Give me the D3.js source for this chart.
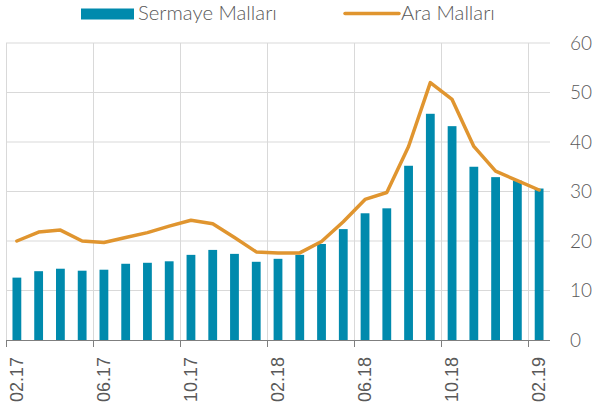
<!DOCTYPE html>
<html>
<head>
<meta charset="utf-8">
<script src="https://cdn.jsdelivr.net/npm/d3@7"></script>
<style>
  html, body { margin: 0; padding: 0; background: #fff; }
  svg { display: block; }
</style>
</head>
<body>
<svg id="chart" width="595" height="410"></svg>
<script>
const months = ["02.17","03.17","04.17","05.17","06.17","07.17","08.17","09.17","10.17","11.17","12.17","01.18",
                "02.18","03.18","04.18","05.18","06.18","07.18","08.18","09.18","10.18","11.18","12.18","01.19","02.19"];
const sermayeMallari = [12.6,13.9,14.4,14.0,14.2,15.4,15.6,15.9,17.2,18.2,17.4,15.8,
                        16.4,17.2,19.4,22.4,25.6,26.6,35.2,45.7,43.2,35.0,32.9,32.2,30.6];
const araMallari = [20.0,21.8,22.2,20.0,19.7,20.7,21.7,23.0,24.2,23.5,20.7,17.8,
                    17.6,17.6,19.9,23.9,28.4,29.8,39.1,52.0,48.6,39.1,34.1,32.2,30.3];
const tickLabels = ["02.17","06.17","10.17","02.18","06.18","10.18","02.19"];
const yTicks = [0,10,20,30,40,50,60];
const seriesNames = ["Sermaye Malları","Ara Malları"];

const barColor = "#008aad";
const lineColor = "#e0952f";
const gridColor = "#d9d9d9";
const textColor = "#595959";

const svg = d3.select("#chart");
const pLeft = 6, pRight = 550, pTop = 43, pBottom = 340;

const xb = d3.scaleBand().domain(months).range([pLeft, pRight]).padding(0);
const y = d3.scaleLinear().domain([0, 60]).range([pBottom, pTop]);

// horizontal gridlines
svg.append("g").selectAll("line").data(yTicks.filter(d => d > 0)).join("line")
  .attr("x1", pLeft).attr("x2", pRight)
  .attr("y1", d => y(d)).attr("y2", d => y(d))
  .attr("stroke", gridColor).attr("stroke-width", 1);

// vertical gridlines at tick months (band starts)
svg.append("g").selectAll("line").data(tickLabels).join("line")
  .attr("x1", d => Math.round(xb(d)) + 0.5).attr("x2", d => Math.round(xb(d)) + 0.5)
  .attr("y1", pTop).attr("y2", pBottom)
  .attr("stroke", gridColor).attr("stroke-width", 1);

// bars
svg.append("g").selectAll("rect").data(months).join("rect")
  .attr("x", (d) => xb(d) + xb.bandwidth() / 2 - 4.4)
  .attr("width", 8.8)
  .attr("y", (d, i) => y(sermayeMallari[i]))
  .attr("height", (d, i) => y(0) - y(sermayeMallari[i]))
  .attr("fill", barColor);

// line
const line = d3.line()
  .x((d, i) => xb(months[i]) + xb.bandwidth() / 2)
  .y(d => y(d));
svg.append("path").datum(araMallari)
  .attr("d", line)
  .attr("fill", "none")
  .attr("stroke", lineColor)
  .attr("stroke-width", 3.5)
  .attr("stroke-linejoin", "round")
  .attr("stroke-linecap", "round");

// x axis line + ticks
svg.append("line")
  .attr("x1", pLeft).attr("x2", pRight)
  .attr("y1", pBottom + 0.5).attr("y2", pBottom + 0.5)
  .attr("stroke", "#7f7f7f").attr("stroke-width", 1);
svg.append("g").selectAll("line").data(tickLabels).join("line")
  .attr("x1", d => Math.round(xb(d)) + 0.5).attr("x2", d => Math.round(xb(d)) + 0.5)
  .attr("y1", pBottom).attr("y2", pBottom + 7)
  .attr("stroke", "#7f7f7f").attr("stroke-width", 1);

// x labels
svg.append("g").selectAll("text").data(tickLabels).join("text")
  .attr("transform", d => `translate(${xb(d) + xb.bandwidth() / 2},357) rotate(-90)`)
  .attr("text-anchor", "end")
  .attr("dy", "0.35em")
  .attr("font-family", "'Liberation Sans', Arial, sans-serif")
  .attr("font-size", 18)
  .attr("fill", textColor)
  .text(d => d);

// y labels (right)
svg.append("g").selectAll("text").data(yTicks).join("text")
  .attr("x", 570)
  .attr("y", d => y(d))
  .attr("dy", "0.36em")
  .attr("font-family", "Lato, 'Open Sans', sans-serif")
  .attr("font-weight", 300)
  .attr("font-size", 19)
  .attr("fill", textColor)
  .text(d => d);

// legend
const lg = svg.append("g");
lg.append("rect").attr("x", 81).attr("y", 8.5).attr("width", 53).attr("height", 11).attr("fill", barColor);
lg.append("text").attr("x", 138).attr("y", 20)
  .attr("font-family", "Lato, 'Open Sans', sans-serif").attr("font-weight", 300)
  .attr("font-size", 20.3).attr("fill", textColor).text(seriesNames[0]);
lg.append("line").attr("x1", 345).attr("x2", 399).attr("y1", 13.5).attr("y2", 13.5)
  .attr("stroke", lineColor).attr("stroke-width", 3.5).attr("stroke-linecap", "round");
lg.append("text").attr("x", 401).attr("y", 20)
  .attr("font-family", "Lato, 'Open Sans', sans-serif").attr("font-weight", 300)
  .attr("font-size", 20.3).attr("fill", textColor).text(seriesNames[1]);
</script>
</body>
</html>
